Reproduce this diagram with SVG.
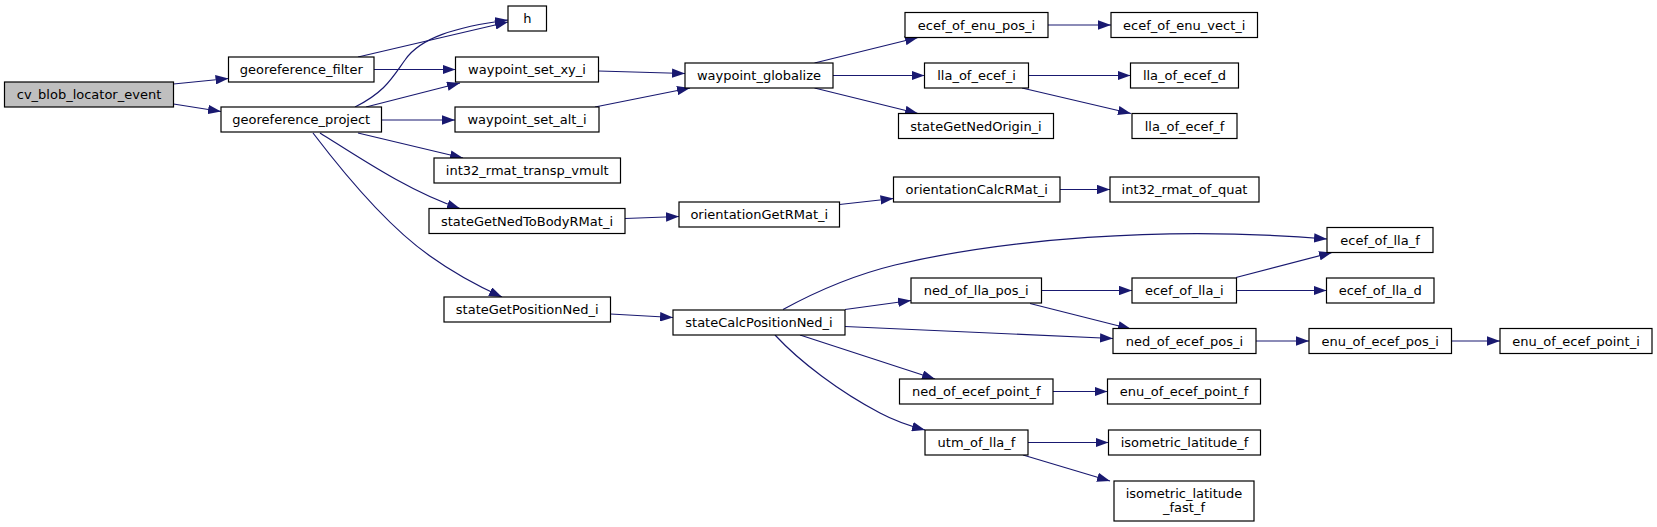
<svg xmlns="http://www.w3.org/2000/svg" width="1657" height="527" viewBox="0 0 1657 527">
<style>
.n rect{fill:#fff;stroke:#000;stroke-width:1.2}
.root rect{fill:#bfbfbf}
.n text{font-family:"DejaVu Sans",sans-serif;font-size:13px;text-anchor:middle;fill:#000}
.e path{fill:none;stroke:#191970;stroke-width:1.2;marker-end:url(#ah)}
</style>
<defs>
<marker id="ah" viewBox="0 0 13 9.4" refX="13" refY="4.7" markerWidth="13" markerHeight="9.4" markerUnits="userSpaceOnUse" orient="auto">
<path d="M0,0 L13,4.7 L0,9.4 Z" fill="#191970"/>
</marker>
</defs>
<rect width="1657" height="527" fill="#fff"/>
<g id="edges" class="e">
<path d="M173.5,84 L228.5,78.5"/>
<path d="M173.5,104 L221,111.5"/>
<path d="M358,57 L508,22"/>
<path d="M355,107 C385,92 392,78 405,60 C420,38 455,27 508,20"/>
<path d="M374,69.5 L455.5,69.5"/>
<path d="M366,107 L460,83"/>
<path d="M381.5,120 L455,120"/>
<path d="M358,133 L463,158"/>
<path d="M320,133 C360,158 410,192 460,208.5"/>
<path d="M313,133 C345,175 390,228 430,256 C455,274 480,287 502,297"/>
<path d="M598.5,71 L685,73.5"/>
<path d="M595,107 L690,88"/>
<path d="M814.5,63 L918,37.5"/>
<path d="M833,75.5 L924.5,75.5"/>
<path d="M814.5,88 L918,113.5"/>
<path d="M1048,25 L1111,25"/>
<path d="M1028.5,75.5 L1130.5,75.5"/>
<path d="M1022,88 L1131,113.5"/>
<path d="M625,218.5 L679,216.5"/>
<path d="M839.5,204.5 L893.5,198.5"/>
<path d="M1060,189.5 L1110,189.5"/>
<path d="M610.5,314 L673,317.5"/>
<path d="M783,309.5 C815,292 850,276 895,265 C1000,240 1160,225 1327,239"/>
<path d="M845,309.5 L911,300.5"/>
<path d="M845,326.5 L1113,338.5"/>
<path d="M800,335 L935,379"/>
<path d="M775,335 C800,362 840,392 880,413 C895,421 910,426 925,430"/>
<path d="M1041.5,290.5 L1132,290.5"/>
<path d="M1030,303.5 L1131,329"/>
<path d="M1236,277.5 L1332,252.5"/>
<path d="M1236.5,290.5 L1326.5,290.5"/>
<path d="M1256,341 L1309,341"/>
<path d="M1451.5,341 L1500,341"/>
<path d="M1053,391.5 L1107.5,391.5"/>
<path d="M1028,442.5 L1108.5,442.5"/>
<path d="M1023,455 L1110,481"/>
</g>
<g id="cv_blob_locator_event" class="n root"><rect x="4.5" y="82" width="169" height="25"/><text x="89" y="99">cv_blob_locator_event</text></g>
<g id="georeference_filter" class="n"><rect x="228.5" y="57" width="145.5" height="25"/><text x="301.25" y="74">georeference_filter</text></g>
<g id="georeference_project" class="n"><rect x="221" y="107" width="160.5" height="25"/><text x="301.25" y="124">georeference_project</text></g>
<g id="h" class="n"><rect x="508" y="6" width="38.5" height="25"/><text x="527.25" y="23">h</text></g>
<g id="waypoint_set_xy_i" class="n"><rect x="455.5" y="57" width="143" height="25"/><text x="527" y="74">waypoint_set_xy_i</text></g>
<g id="waypoint_set_alt_i" class="n"><rect x="455" y="107" width="144" height="25"/><text x="527" y="124">waypoint_set_alt_i</text></g>
<g id="int32_rmat_transp_vmult" class="n"><rect x="434" y="158" width="186.5" height="25"/><text x="527.25" y="175">int32_rmat_transp_vmult</text></g>
<g id="stateGetNedToBodyRMat_i" class="n"><rect x="429" y="208.5" width="196" height="25"/><text x="527" y="225.5">stateGetNedToBodyRMat_i</text></g>
<g id="stateGetPositionNed_i" class="n"><rect x="444" y="297" width="166.5" height="25"/><text x="527.25" y="314">stateGetPositionNed_i</text></g>
<g id="waypoint_globalize" class="n"><rect x="685" y="63" width="148" height="25"/><text x="759" y="80">waypoint_globalize</text></g>
<g id="orientationGetRMat_i" class="n"><rect x="679" y="202" width="160.5" height="25"/><text x="759.25" y="219">orientationGetRMat_i</text></g>
<g id="stateCalcPositionNed_i" class="n"><rect x="673" y="310" width="172" height="25"/><text x="759" y="327">stateCalcPositionNed_i</text></g>
<g id="ecef_of_enu_pos_i" class="n"><rect x="905" y="12.5" width="143" height="25"/><text x="976.5" y="29.5">ecef_of_enu_pos_i</text></g>
<g id="lla_of_ecef_i" class="n"><rect x="924.5" y="63" width="104" height="25"/><text x="976.5" y="80">lla_of_ecef_i</text></g>
<g id="stateGetNedOrigin_i" class="n"><rect x="898.5" y="113.5" width="155" height="25"/><text x="976" y="130.5">stateGetNedOrigin_i</text></g>
<g id="orientationCalcRMat_i" class="n"><rect x="893.5" y="177" width="166.5" height="25"/><text x="976.75" y="194">orientationCalcRMat_i</text></g>
<g id="ned_of_lla_pos_i" class="n"><rect x="911" y="278" width="130.5" height="25"/><text x="976.25" y="295">ned_of_lla_pos_i</text></g>
<g id="ned_of_ecef_point_f" class="n"><rect x="899.5" y="379" width="153.5" height="25"/><text x="976.25" y="396">ned_of_ecef_point_f</text></g>
<g id="utm_of_lla_f" class="n"><rect x="925" y="430" width="103" height="25"/><text x="976.5" y="447">utm_of_lla_f</text></g>
<g id="ecef_of_enu_vect_i" class="n"><rect x="1111" y="12.5" width="146.5" height="25"/><text x="1184.25" y="29.5">ecef_of_enu_vect_i</text></g>
<g id="lla_of_ecef_d" class="n"><rect x="1130.5" y="63" width="108" height="25"/><text x="1184.5" y="80">lla_of_ecef_d</text></g>
<g id="lla_of_ecef_f" class="n"><rect x="1132" y="113.5" width="105" height="25"/><text x="1184.5" y="130.5">lla_of_ecef_f</text></g>
<g id="int32_rmat_of_quat" class="n"><rect x="1110" y="177" width="149" height="25"/><text x="1184.5" y="194">int32_rmat_of_quat</text></g>
<g id="ecef_of_lla_i" class="n"><rect x="1132" y="278" width="104.5" height="25"/><text x="1184.25" y="295">ecef_of_lla_i</text></g>
<g id="ned_of_ecef_pos_i" class="n"><rect x="1113" y="328.5" width="143" height="25"/><text x="1184.5" y="345.5">ned_of_ecef_pos_i</text></g>
<g id="enu_of_ecef_point_f" class="n"><rect x="1107.5" y="379" width="153" height="25"/><text x="1184" y="396">enu_of_ecef_point_f</text></g>
<g id="isometric_latitude_f" class="n"><rect x="1108.5" y="430" width="152" height="25"/><text x="1184.5" y="447">isometric_latitude_f</text></g>
<g id="isometric_latitude_fast_f" class="n"><rect x="1114" y="481" width="140" height="40"/><text x="1184" y="497.5">isometric_latitude</text><text x="1184" y="511.5">_fast_f</text></g>
<g id="ecef_of_lla_f" class="n"><rect x="1327" y="227.5" width="106" height="25"/><text x="1380" y="244.5">ecef_of_lla_f</text></g>
<g id="ecef_of_lla_d" class="n"><rect x="1326.5" y="278" width="107.5" height="25"/><text x="1380.25" y="295">ecef_of_lla_d</text></g>
<g id="enu_of_ecef_pos_i" class="n"><rect x="1309" y="328.5" width="142.5" height="25"/><text x="1380.25" y="345.5">enu_of_ecef_pos_i</text></g>
<g id="enu_of_ecef_point_i" class="n"><rect x="1500" y="328.5" width="152" height="25"/><text x="1576" y="345.5">enu_of_ecef_point_i</text></g>
</svg>
